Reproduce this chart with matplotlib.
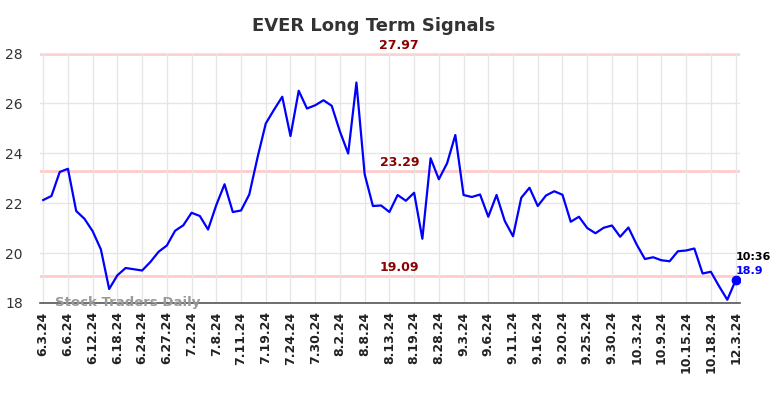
import numpy as np
import matplotlib
matplotlib.use("Agg")
import matplotlib.pyplot as plt

# price series (one point per trading-day step, 3 steps per date label)
prices = [22.12, 22.28, 23.24, 23.37, 21.68, 21.37, 20.87, 20.14, 18.56, 19.11,
          19.40, 19.35, 19.30, 19.64, 20.05, 20.30, 20.89, 21.11, 21.61, 21.48,
          20.94, 21.92, 22.75, 21.64, 21.70, 22.34, 23.82, 25.18, 25.73, 26.25,
          24.68, 26.49, 25.78, 25.91, 26.11, 25.89, 24.86, 23.98, 26.82, 23.15,
          21.88, 21.90, 21.64, 22.32, 22.09, 22.41, 20.57, 23.79, 22.95, 23.59,
          24.72, 22.32, 22.24, 22.34, 21.45, 22.32, 21.28, 20.67, 22.21, 22.61,
          21.88, 22.30, 22.47, 22.33, 21.25, 21.45, 21.00, 20.79, 21.01, 21.10,
          20.65, 21.02, 20.34, 19.76, 19.83, 19.71, 19.67, 20.07, 20.10, 20.18,
          19.18, 19.25, 18.67, 18.13, 18.90]

date_labels = ["6.3.24", "6.6.24", "6.12.24", "6.18.24", "6.24.24", "6.27.24",
               "7.2.24", "7.8.24", "7.11.24", "7.19.24", "7.24.24", "7.30.24",
               "8.2.24", "8.8.24", "8.13.24", "8.19.24", "8.28.24", "9.3.24",
               "9.6.24", "9.11.24", "9.16.24", "9.20.24", "9.25.24", "9.30.24",
               "10.3.24", "10.9.24", "10.15.24", "10.18.24", "12.3.24"]

levels = [27.97, 23.29, 19.09]
last_time = "10:36"

x = np.arange(len(prices))
ticks = np.arange(0, len(prices), 3)

fig = plt.figure(figsize=(7.84, 3.98), dpi=100)
ax = fig.add_axes([0.0504, 0.2387, 0.8936, 0.6281])

for lv in levels:
    ax.axhline(lv, color="#ffcccc", lw=2, zorder=1)
    ax.text(43.2, lv + 0.08, f"{lv:.2f}", color="#8b0000", fontsize=9,
            fontweight="bold", ha="center", va="bottom", zorder=5)

ax.plot(x, prices, color="#0000ff", lw=1.6, zorder=3)
ax.plot(x[-1], prices[-1], "o", color="#0000ff", ms=6, zorder=4)
ax.text(x[-1], prices[-1] + 0.38, f"{prices[-1]}", color="#0000ff", fontsize=8,
        fontweight="bold", ha="left", va="center")
ax.text(x[-1], prices[-1] + 0.94, last_time, color="black", fontsize=8,
        fontweight="bold", ha="left", va="center")

ax.text(1.4, 18.0, "Stock Traders Daily", color="#999999", fontsize=9.5,
        fontweight="bold", ha="left", va="center", zorder=6)

ax.set_xlim(-0.45, 84.55)
ax.set_ylim(18, 28)
ax.set_xticks(ticks)
ax.set_xticklabels(date_labels, rotation=90, fontsize=9, fontweight="bold",
                   color="#222222")
ax.set_yticks([18, 20, 22, 24, 26, 28])
ax.tick_params(axis="y", labelsize=10, colors="#333333", length=0, pad=12)
ax.tick_params(axis="x", length=0, pad=6)
ax.grid(True, color="#e6e6e6", lw=1, zorder=0)
for s in ["top", "right", "left"]:
    ax.spines[s].set_visible(False)
ax.spines["bottom"].set_color("#555555")
ax.spines["bottom"].set_linewidth(1.2)

fig.text(374 / 784, 1 - 26 / 398, "EVER Long Term Signals", fontsize=13,
         fontweight="bold", color="#333333", ha="center", va="center")

fig.savefig("out.png", dpi=100)
